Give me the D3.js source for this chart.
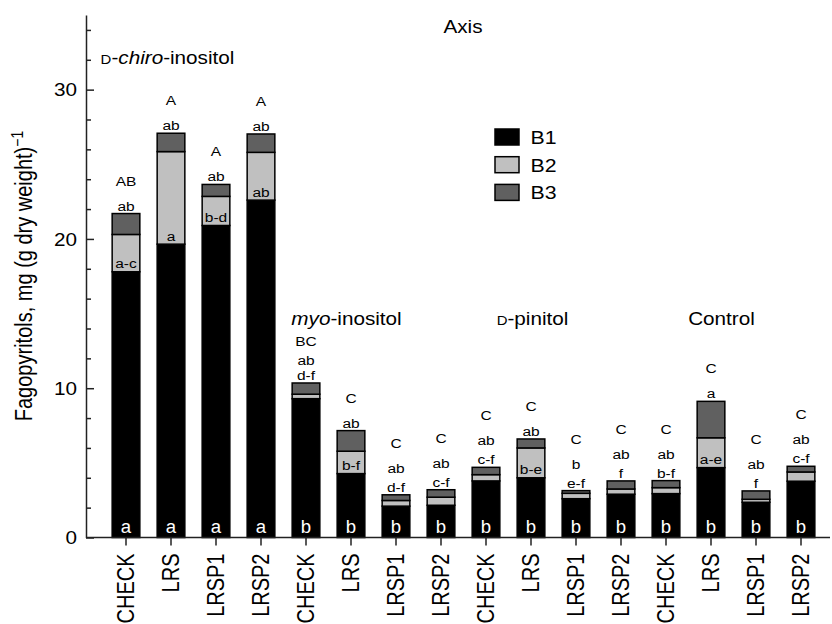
<!DOCTYPE html>
<html><head><meta charset="utf-8">
<script src="https://cdn.jsdelivr.net/npm/d3@7"></script>
<style>html,body{margin:0;padding:0;background:#fff;}svg{display:block;font-family:"Liberation Sans",Arial,Helvetica,sans-serif;}</style>
</head><body>
<svg id="chart" width="832" height="624"></svg>
<script>
// ---- data ----
const groups = ["chiro", "myo", "pinitol", "control"];
const treatments = ["CHECK", "LRS", "LRSP1", "LRSP2"];
const seriesNames = ["B1", "B2", "B3"];
const b1 = [17.8, 19.65, 20.9, 22.6, 9.3, 4.28, 2.1, 2.16, 3.79, 4.0, 2.6, 2.9, 2.94, 4.68, 2.36, 3.77];
const b2 = [2.5, 6.2, 1.95, 3.2, 0.3, 1.5, 0.38, 0.54, 0.42, 2.0, 0.36, 0.35, 0.4, 2.0, 0.2, 0.62];
const b3 = [1.4, 1.23, 0.8, 1.23, 0.75, 1.38, 0.38, 0.5, 0.49, 0.6, 0.18, 0.54, 0.47, 2.44, 0.56, 0.38];
const totalLetters = ["AB","A","A","A","BC","C","C","C","C","C","C","C","C","C","C","C"];
const b3Letters = ["ab","ab","ab","ab","ab","ab","ab","ab","ab","ab","b","ab","ab","a","ab","ab"];
const b2Letters = ["a-c","a","b-d","ab","d-f","b-f","d-f","c-f","c-f","b-e","e-f","f","b-f","a-e","f","c-f"];
const b1Letters = ["a","a","a","a","b","b","b","b","b","b","b","b","b","b","b","b"];
const yMajorTicks = [0, 10, 20, 30];
const chartTitle = "Axis";
const yLabel = "Fagopyritols, mg (g dry weight)";

// ---- layout ----
const SX = 1.15;
const axisColor = "#222";
const colors = {B1: "#000000", B2: "#c0c0c0", B3: "#606060"};
const titleDx = [-26, -27, -21, -12];
const titleVal = [31.75, 14.25, 14.25, 14.25];

const svg = d3.select("#chart");
const y = d3.scaleLinear().domain([0, 35]).range([537.5, 15]);
const x = d3.scaleBand().domain(d3.range(16)).range([103.5, 823.5]).paddingInner(0.385).paddingOuter(0.1925);
const xLabels = groups.flatMap(() => treatments);

function txt(g, px, py, str, size, opts = {}) {
  const t = g.append("text")
    .attr("transform", `translate(${px},${py}) scale(${opts.sx ?? SX},1)` + (opts.rot ? ` rotate(${opts.rot})` : ""))
    .attr("text-anchor", opts.anchor || "middle")
    .attr("font-size", size)
    .attr("fill", opts.fill || "#000");
  if (opts.dy) t.attr("dy", opts.dy);
  if (str !== null) t.text(str);
  return t;
}

// table for stack
const table = d3.range(16).map(i => ({i, B1: b1[i], B2: b2[i], B3: b3[i]}));
const stacked = d3.stack().keys(seriesNames)(table);

// bars
const barG = svg.append("g");
stacked.forEach(s => {
  barG.selectAll(null).data(s).join("rect")
    .attr("x", d => x(d.data.i))
    .attr("width", x.bandwidth())
    .attr("y", d => y(d[1]))
    .attr("height", d => y(d[0]) - y(d[1]))
    .attr("fill", colors[s.key])
    .attr("stroke", "#000")
    .attr("stroke-width", 1.5);
});

// axes
const yAxisG = svg.append("g").attr("transform", "translate(86,0)")
  .call(d3.axisLeft(y).tickValues(yMajorTicks).tickSize(-8).tickSizeOuter(0).tickPadding(9).tickFormat(d3.format("d")));
yAxisG.attr("font-family", null);
yAxisG.select(".domain").attr("stroke", axisColor).attr("stroke-width", 1.5);
yAxisG.selectAll(".tick line").attr("stroke", axisColor).attr("stroke-width", 1.5);
yAxisG.selectAll(".tick text").attr("x", null).attr("dy", "0.35em")
  .attr("transform", `translate(-9,0) scale(${SX},1)`).attr("font-size", 18).attr("fill", "#000");

const yMinorG = svg.append("g").attr("transform", "translate(86,0)")
  .call(d3.axisLeft(y).tickValues(d3.range(2, 35, 2).filter(v => v % 10 !== 0)).tickSize(-5).tickFormat(""));
yMinorG.select(".domain").remove();
yMinorG.selectAll(".tick line").attr("stroke", axisColor).attr("stroke-width", 1.5);

const xAxisG = svg.append("g").attr("transform", `translate(0,${y(0)})`)
  .call(d3.axisBottom(x).tickSize(8).tickSizeOuter(0).tickFormat(i => xLabels[i]));
xAxisG.select(".domain").remove();
xAxisG.attr("font-family", null);
xAxisG.selectAll(".tick line").attr("stroke", axisColor).attr("stroke-width", 1.5);
xAxisG.selectAll(".tick text").attr("y", null).attr("dy", "0.35em").attr("text-anchor", "end")
  .attr("transform", `translate(0,16) scale(${SX},1) rotate(-90)`).attr("font-size", 20).attr("fill", "#000");
svg.append("line").attr("x1", 86).attr("x2", 830).attr("y1", y(0)).attr("y2", y(0))
  .attr("stroke", axisColor).attr("stroke-width", 1.5);

// letters
const labG = svg.append("g");
d3.range(16).forEach(i => {
  const cx = x(i) + x.bandwidth() / 2;
  const top = y(b1[i] + b2[i] + b3[i]);
  txt(labG, cx, 533, b1Letters[i], 19, {fill: "#fff", sx: 0.98});
  const b2Inside = b2[i] >= 1.2;
  if (b2Inside) txt(labG, cx, y(b1[i]) - 3.5, b2Letters[i], 13.5);
  const lines = [];
  if (!b2Inside) lines.push({s: b2Letters[i], gap: 19});
  lines.push({s: b3Letters[i], gap: 19});
  lines.push({s: totalLetters[i], gap: 25});
  const base = top - 3;
  let total = 0; lines.slice(1).forEach(l => total += l.gap);
  // keep clear of the group title
  const gi = Math.floor(i / 4);
  const limit = y(titleVal[gi]) + 21;
  let k = 1;
  if (base - total < limit && top > y(titleVal[gi])) k = (base - limit) / total;
  let yy = base;
  lines.forEach((l, j) => {
    if (j > 0) yy -= l.gap * k;
    txt(labG, cx, yy, l.s, 13.5);
  });
});

// group titles
const titleG = svg.append("g");
groups.forEach((gname, gi) => {
  const cx = (x(gi * 4 + 1) + x(gi * 4 + 2) + x.bandwidth()) / 2 + titleDx[gi];
  const t = txt(titleG, cx, y(titleVal[gi]), null, 18);
  if (gname === "chiro") {
    t.append("tspan").attr("font-size", 13).text("D");
    t.append("tspan").text("-");
    t.append("tspan").attr("font-style", "italic").text("chiro");
    t.append("tspan").text("-inositol");
  } else if (gname === "myo") {
    t.append("tspan").attr("font-style", "italic").text("myo");
    t.append("tspan").text("-inositol");
  } else if (gname === "pinitol") {
    t.append("tspan").attr("font-size", 13).text("D");
    t.append("tspan").text("-pinitol");
  } else {
    t.text("Control");
  }
});

// chart title
txt(svg, 463, 33, chartTitle, 18);

// y label
const yl = txt(svg, 24, 276, null, 20, {rot: -90, dy: "0.35em"});
yl.append("tspan").text(yLabel);
yl.append("tspan").attr("font-size", 14).attr("dy", "-0.55em").text("\u22121");

// legend
const legG = svg.append("g");
seriesNames.forEach((s, i) => {
  legG.append("rect").attr("x", 495).attr("y", 129 + i * 27.7).attr("width", 24).attr("height", 16)
    .attr("fill", colors[s]).attr("stroke", "#000").attr("stroke-width", 1.5);
  txt(legG, 530.5, 144 + i * 27.7, s, 18.5, {anchor: "start"});
});
</script>
</body></html>
